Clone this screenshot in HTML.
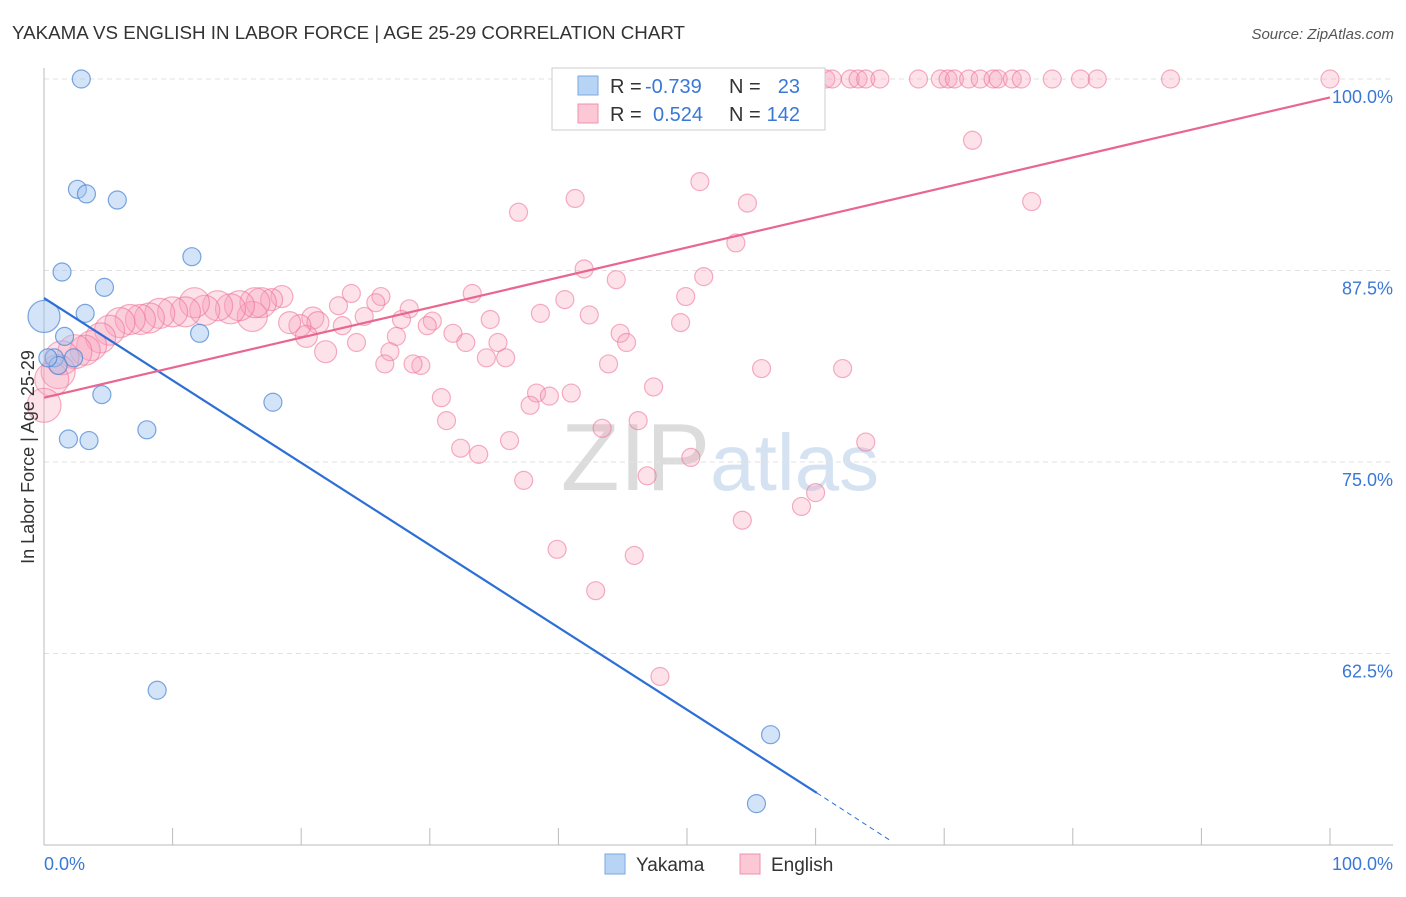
<!DOCTYPE html>
<html><head><meta charset="utf-8"><style>
body{margin:0;background:#fff;font-family:"Liberation Sans",sans-serif}
svg text{font-family:"Liberation Sans",sans-serif}
</style></head><body>
<svg id="chart" width="1406" height="892" viewBox="0 0 1406 892" xmlns="http://www.w3.org/2000/svg">
<text x="12" y="39" font-size="18" fill="#333" textLength="673" lengthAdjust="spacingAndGlyphs">YAKAMA VS ENGLISH IN LABOR FORCE | AGE 25-29 CORRELATION CHART</text>
<text x="1394" y="39" font-size="15" fill="#555" text-anchor="end" font-style="italic">Source: ZipAtlas.com</text>
<text x="720" y="490" font-size="96" fill="#e4e4e4" text-anchor="middle" font-family="Liberation Serif"><tspan fill="#dcdcdc">ZIP</tspan><tspan fill="#d4e2f2" font-family="Liberation Sans" font-size="80">atlas</tspan></text>
<g id="grid"></g>
<g id="axes"></g>
<g id="marks"></g>
<g id="lines"></g>
<text transform="translate(34,457) rotate(-90)" font-size="18" fill="#333" text-anchor="middle">In Labor Force | Age 25-29</text>
<g font-size="20">
<rect x="552" y="68" width="273" height="62" fill="#fff" stroke="#ccc"/>
<rect x="578" y="76" width="20" height="19" fill="#b8d4f5" stroke="#7aa8e0"/>
<rect x="578" y="104" width="20" height="19" fill="#fcc8d6" stroke="#f090ae"/>
<text x="610" y="93" fill="#333">R =</text>
<text x="645" y="93" fill="#3a78d6">-0.739</text>
<text x="729" y="93" fill="#333">N =</text>
<text x="800" y="93" fill="#3a78d6" text-anchor="end">23</text>
<text x="610" y="121" fill="#333">R =</text>
<text x="653" y="121" fill="#3a78d6">0.524</text>
<text x="729" y="121" fill="#333">N =</text>
<text x="800" y="121" fill="#3a78d6" text-anchor="end">142</text>
</g>
<g>
<rect x="605" y="854" width="20" height="20" fill="#b8d4f5" stroke="#7aa8e0"/>
<text x="636" y="871" font-size="19" fill="#333">Yakama</text>
<rect x="740" y="854" width="20" height="20" fill="#fcc8d6" stroke="#f090ae"/>
<text x="771" y="871" font-size="19" fill="#333">English</text>
</g>
</svg>
<script>
const yTicks=[100,87.5,75,62.5];
const yTickLabels=["100.0%","87.5%","75.0%","62.5%"];
const xTickLabels=["0.0%","100.0%"];
const yakamaX=[2.9,2.6,3.3,5.7,1.4,11.5,4.7,3.2,0,1.6,0.8,1.1,2.3,12.1,4.5,17.8,1.9,3.5,8.0,8.8,56.5,55.4,0.3];
const yakamaY=[100,92.8,92.5,92.1,87.4,88.4,86.4,84.7,84.5,83.2,81.8,81.3,81.8,83.4,79.4,78.9,76.5,76.4,77.1,60.1,57.2,52.7,81.8];
const englishX=[55.3,56.5,58.0,59.2,60.8,61.3,62.7,63.3,63.9,65.0,68.0,69.7,70.3,70.8,71.9,72.8,73.8,74.2,75.3,76.0,78.4,80.6,81.9,87.6,100,
72.2,76.8,51.0,41.3,36.9,54.7,53.8,42.0,44.5,51.3,49.9,40.5,38.6,42.4,49.5,44.8,45.3,43.9,55.8,62.1,47.4,41.0,38.3,39.3,37.8,46.2,43.4,63.9,36.2,32.4,33.8,50.3,46.9,37.3,60.0,58.9,54.3,39.9,45.9,42.9,47.9,
33.3,34.7,35.3,35.9,34.4,31.8,32.8,30.2,29.8,30.9,31.3,28.4,27.8,26.2,25.8,23.9,22.9,24.9,23.2,24.3,27.4,26.9,26.5,29.3,28.7,21.9,20.9,21.3,20.4,19.9,19.1,18.5,17.7,16.9,16.2,
16.4,15.2,14.5,13.5,12.5,11.7,11.0,10.0,9.0,8.2,7.5,6.7,5.9,5.1,4.4,3.7,3.2,2.4,1.4,1.1,0.6,0];
const englishY=[100,100,100,100,100,100,100,100,100,100,100,100,100,100,100,100,100,100,100,100,100,100,100,100,100,
96.0,92.0,93.3,92.2,91.3,91.9,89.3,87.6,86.9,87.1,85.8,85.6,84.7,84.6,84.1,83.4,82.8,81.4,81.1,81.1,79.9,79.5,79.5,79.3,78.7,77.7,77.2,76.3,76.4,75.9,75.5,75.3,74.1,73.8,73.0,72.1,71.2,69.3,68.9,66.6,61.0,
86.0,84.3,82.8,81.8,81.8,83.4,82.8,84.2,83.9,79.2,77.7,85.0,84.3,85.8,85.4,86.0,85.2,84.5,83.9,82.8,83.2,82.2,81.4,81.3,81.4,82.2,84.4,84.1,83.2,83.9,84.1,85.8,85.6,85.4,84.5,
85.4,85.2,85.0,85.2,84.9,85.4,84.8,84.8,84.7,84.4,84.3,84.3,84.1,83.6,83.1,82.6,82.3,82.2,81.8,80.9,80.4,78.7];
const yakamaFit=[[0,85.7],[60.1,53.4]];
const yakamaFitExt=[[60.1,53.4],[65.8,50.3]];
const englishFit=[[0,79.2],[100,98.8]];
const X=v=>44+v*12.86;
const Y=v=>79+(100-v)*15.32;
const NS="http://www.w3.org/2000/svg";
function mk(tag,attrs,parent){const e=document.createElementNS(NS,tag);for(const k in attrs)e.setAttribute(k,attrs[k]);document.getElementById(parent).appendChild(e);return e;}
yTicks.forEach((t,i)=>{
 const l=mk('line',{x1:44,x2:1393,y1:Y(t),y2:Y(t),stroke:'#e2e2e2','stroke-dasharray':'5,4'},'grid');
 
 
 const tx=mk('text',{x:1393,y:Y(t)+24,'font-size':18,fill:'#3a78d6','text-anchor':'end'},'grid');
 tx.textContent=yTickLabels[i];
 
 
});
const ax=mk('line',{x1:44,x2:44,y1:68,y2:845,stroke:'#bbb'},'axes');


const bx=mk('line',{x1:44,x2:1393,y1:845,y2:845,stroke:'#bbb'},'axes');


for(let k=1;k<=10;k++){const t=mk('line',{x1:X(k*10),x2:X(k*10),y1:828,y2:845,stroke:'#bbb'},'axes');
 
 }
[[0,'start',44],[1,'end',1393]].forEach(([i,a,x])=>{const t=mk('text',{x:x,y:870,'font-size':18,fill:'#3a78d6','text-anchor':a},'axes');t.textContent=xTickLabels[i];
 
 });
englishX.forEach((x,i)=>{const r=x<17?(x<3?17:15):(x<22?11:9);
 const c=mk('circle',{cx:X(x),cy:Y(englishY[i]),r:r,fill:'rgba(248,160,185,0.3)',stroke:'rgba(236,110,150,0.55)','stroke-width':1.2},'marks');
 
 });
yakamaX.forEach((x,i)=>{const r=(x===0)?16:9;
 const c=mk('circle',{cx:X(x),cy:Y(yakamaY[i]),r:r,fill:'rgba(160,196,240,0.45)',stroke:'rgba(70,130,210,0.7)','stroke-width':1.2},'marks');
 
 });
const l1=mk('line',{x1:X(yakamaFit[0][0]),y1:Y(yakamaFit[0][1]),x2:X(yakamaFit[1][0]),y2:Y(yakamaFit[1][1]),stroke:'#2c6fd6','stroke-width':2.2},'lines');


const l2=mk('line',{x1:X(yakamaFitExt[0][0]),y1:Y(yakamaFitExt[0][1]),x2:X(yakamaFitExt[1][0]),y2:Y(yakamaFitExt[1][1]),stroke:'#2c6fd6','stroke-width':1,'stroke-dasharray':'5,4'},'lines');


const l3=mk('line',{x1:X(englishFit[0][0]),y1:Y(englishFit[0][1]),x2:X(englishFit[1][0]),y2:Y(englishFit[1][1]),stroke:'#e8668f','stroke-width':2.2},'lines');


</script>
</body></html>
